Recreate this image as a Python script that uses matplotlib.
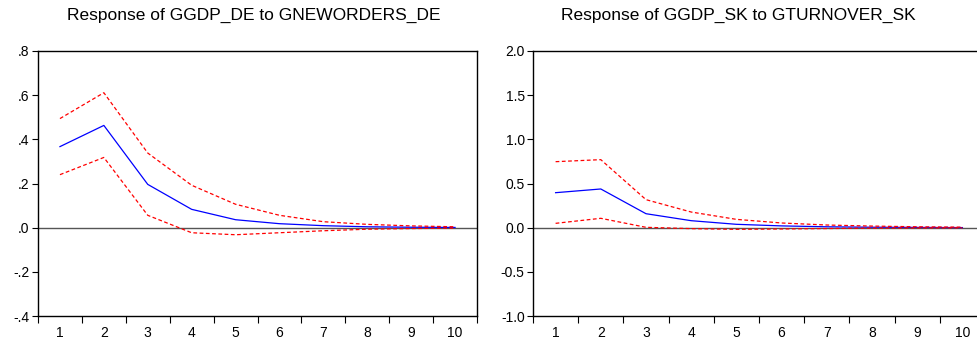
import matplotlib
matplotlib.use('Agg')
import matplotlib.pyplot as plt
import numpy as np

plt.rcParams['font.family'] = ['Liberation Sans', 'DejaVu Sans']

periods = np.arange(1, 11)

# Response of GGDP_DE to GNEWORDERS_DE
de_resp = [0.367, 0.463, 0.196, 0.083, 0.036, 0.018, 0.009, 0.004, 0.002, 0.001]
de_upper = [0.494, 0.611, 0.338, 0.192, 0.106, 0.056, 0.027, 0.015, 0.008, 0.004]
de_lower = [0.240, 0.318, 0.056, -0.023, -0.032, -0.023, -0.014, -0.007, -0.004, -0.002]

# Response of GGDP_SK to GTURNOVER_SK
sk_resp = [0.396, 0.438, 0.158, 0.079, 0.038, 0.020, 0.010, 0.005, 0.003, 0.001]
sk_upper = [0.747, 0.770, 0.317, 0.177, 0.094, 0.053, 0.030, 0.018, 0.010, 0.006]
sk_lower = [0.049, 0.106, 0.004, -0.011, -0.019, -0.015, -0.010, -0.005, -0.003, -0.002]

de_yticks = [-0.4, -0.2, 0.0, 0.2, 0.4, 0.6, 0.8]
de_ylabels = ['-.4', '-.2', '.0', '.2', '.4', '.6', '.8']
sk_yticks = [-1.0, -0.5, 0.0, 0.5, 1.0, 1.5, 2.0]
sk_ylabels = ['-1.0', '-0.5', '0.0', '0.5', '1.0', '1.5', '2.0']

W, H = 977, 343
fig = plt.figure(figsize=(W / 100, H / 100), dpi=100)

# (left px, width px, title centre px, ...)
panels = [
    (38, 439, 254, 'Response of GGDP_DE to GNEWORDERS_DE', de_resp, de_upper, de_lower,
     de_yticks, de_ylabels, (-0.4, 0.8)),
    (533, 452, 738, 'Response of GGDP_SK to GTURNOVER_SK', sk_resp, sk_upper, sk_lower,
     sk_yticks, sk_ylabels, (-1.0, 2.0)),
]

top, bottom = 51, 316
for left, width, tc, title, resp, up, lo, yt, yl, ylim in panels:
    ax = fig.add_axes([left / W, 1 - bottom / H, width / W, (bottom - top) / H])
    ax.plot(periods, resp, color='blue', lw=0.9)
    ax.plot(periods, up, color='red', lw=0.9, ls=(0, (3, 2)))
    ax.plot(periods, lo, color='red', lw=0.9, ls=(0, (3, 2)))
    ax.axhline(0, color='#555555', lw=1.0, zorder=1)
    ax.set_xlim(0.5, 10.5)
    ax.set_ylim(*ylim)
    ax.set_xticks(np.arange(0.5, 11, 1))
    ax.set_xticklabels([])
    ax.set_xticks(periods, minor=True)
    ax.set_xticklabels([str(p) for p in periods], minor=True)
    ax.tick_params(axis='x', which='major', direction='out', length=5, width=0.8)
    ax.tick_params(axis='x', which='minor', length=0, labelsize=10, pad=7)
    ax.set_yticks(yt)
    ax.set_yticklabels(yl)
    ax.tick_params(axis='y', direction='out', length=4, width=0.8, labelsize=10, pad=2)
    for s in ax.spines.values():
        s.set_linewidth(1.0)
    fig.text(tc / W, 1 - 15 / H, title, ha='center', va='center', fontsize=12.5)

fig.savefig('out.png', dpi=100)
